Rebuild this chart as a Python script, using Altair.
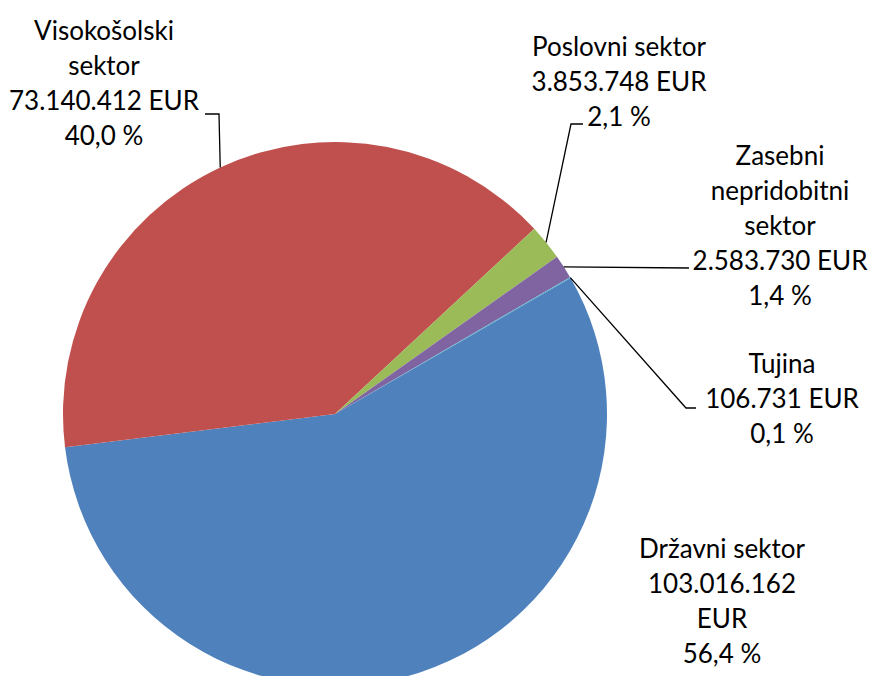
import math
import altair as alt
import pandas as pd

# ---- data ----
categories = ["Državni sektor", "Visokošolski sektor", "Poslovni sektor",
              "Zasebni nepridobitni sektor", "Tujina"]
values = [103016162, 73140412, 3853748, 2583730, 106731]
colors = ["#4F81BD", "#C0504D", "#9BBB59", "#8064A2", "#4BACC6"]

# label wording (line breaks as in the original)
name_lines = [["Državni sektor"], ["Visokošolski", "sektor"], ["Poslovni sektor"],
              ["Zasebni", "nepridobitni", "sektor"], ["Tujina"]]
split_amount = [True, False, False, False, False]

# ---- layout ----
W, H = 860, 668
CX, CY = 327, 406
R = 272
START = math.radians(60)
FONT = "Lato"
FS = 26
LH = 35

# x = centre of the label block, y = centre of its first line
label_pos = [(714, 542), (96, 24), (611, 40), (772, 149), (774, 357)]
# leader polyline points after the pie edge point (None = no leader)
leader_pts = [None,
              [(211, 106), (197, 106)],
              [(563, 116), (575, 116)],
              [(681, 260)],
              [(678, 400), (688, 400)]]

total = sum(values)


def fmt_int(v):
    return f"{v:,}".replace(",", ".")


def fmt_pct(p):
    return f"{p:.1f}".replace(".", ",") + " %"


rows = []
for i, (c, v) in enumerate(zip(categories, values)):
    rows.append({"cat": c, "value": v, "idx": i})
pie_df = pd.DataFrame(rows)

label_rows = []
line_rows = []
cum = 0
for i, (c, v) in enumerate(zip(categories, values)):
    amount = fmt_int(v)
    amount_lines = [amount, "EUR"] if split_amount[i] else [amount + " EUR"]
    lines = name_lines[i] + amount_lines + [fmt_pct(100 * v / total)]
    label_rows.append({"cat": c, "text": "\n".join(lines),
                       "x": label_pos[i][0], "y": label_pos[i][1]})
    mid = START + 2 * math.pi * (cum + v / 2) / total
    cum += v
    if leader_pts[i] is not None:
        ex = CX + R * math.sin(mid)
        ey = CY - R * math.cos(mid)
        pts = [(ex, ey)] + leader_pts[i]
        for k, (px, py) in enumerate(pts):
            line_rows.append({"cat": c, "k": k, "x": px, "y": py})

label_df = pd.DataFrame(label_rows)
line_df = pd.DataFrame(line_rows)

pie = alt.Chart(pie_df).mark_arc(outerRadius=R, stroke=None).encode(
    theta=alt.Theta("value:Q", stack=True,
                    scale=alt.Scale(range=[START, START + 2 * math.pi])),
    color=alt.Color("cat:N", scale=alt.Scale(domain=categories, range=colors),
                    legend=None),
    order=alt.Order("idx:Q"),
    x=alt.value(CX),
    y=alt.value(CY),
)

leaders = alt.Chart(line_df).mark_line(color="black", strokeWidth=1.3).encode(
    x=alt.X("x:Q", scale=None),
    y=alt.Y("y:Q", scale=None),
    detail="cat:N",
    order="k:Q",
)

labels = alt.Chart(label_df).mark_text(
    font=FONT, fontSize=FS, lineHeight=LH, align="center", baseline="middle",
    color="black", lineBreak="\n",
).encode(
    x=alt.X("x:Q", scale=None),
    y=alt.Y("y:Q", scale=None),
    text="text:N",
)

chart = alt.layer(pie, leaders, labels).properties(
    width=W, height=H, padding=0,
    autosize=alt.AutoSizeParams(type="none"),
    background="white",
).configure_view(stroke=None)

chart.save("out.html", embed_options={"renderer": "svg", "actions": False})
